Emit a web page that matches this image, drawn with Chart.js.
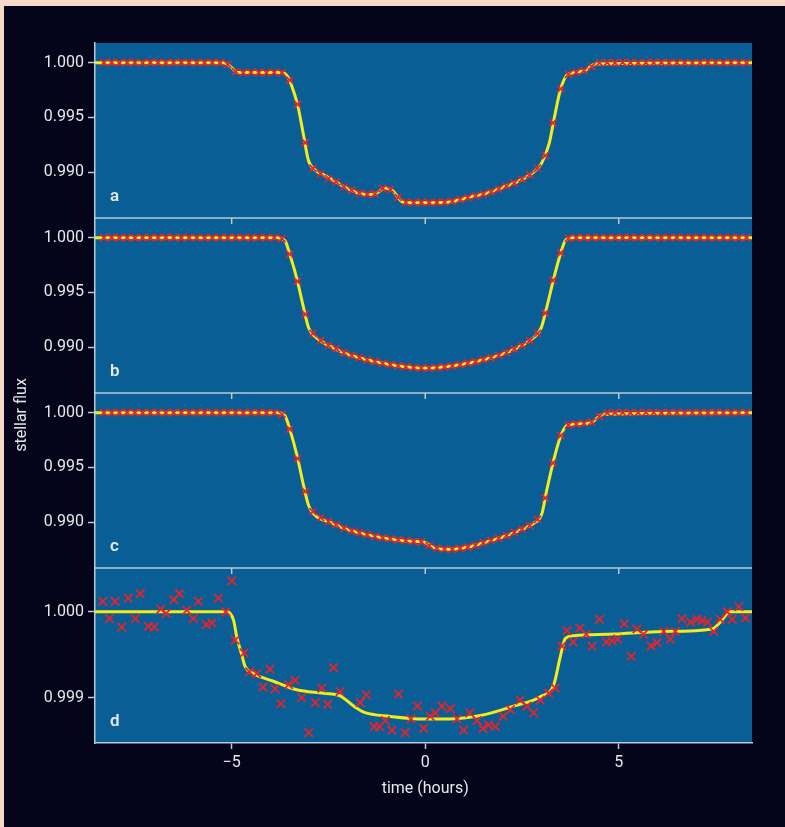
<!DOCTYPE html>
<html>
<head>
<meta charset="utf-8">
<title>Transit light curves</title>
<script src="https://cdn.jsdelivr.net/npm/chart.js@4.4.0/dist/chart.umd.min.js"></script>
<style>
  html, body { margin: 0; padding: 0; background: #04041a; }
  canvas { display: block; }
</style>
</head>
<body>
<canvas id="transitChart" width="785" height="827"></canvas>
<script>
// time axis (hours) and its labelled ticks
const xTicks = [-5, 0, 5];
const yTicksFine = [0.990, 0.995, 1.000];
const yTicksD = [0.999, 1.000];
const panelLetters = ["a", "b", "c", "d"];

// sampling times of the measured points in panels a, b, c
const tGrid = [-8.3, -8.1, -7.9, -7.7, -7.5, -7.3, -7.1, -6.9, -6.7, -6.5, -6.3, -6.1, -5.9, -5.7, -5.5, -5.3,
  -5.1, -4.9, -4.7, -4.5, -4.3, -4.1, -3.9, -3.7, -3.5, -3.3, -3.1, -2.9, -2.7, -2.5, -2.3, -2.1,
  -1.9, -1.7, -1.5, -1.3, -1.1, -0.9, -0.7, -0.5, -0.3, -0.1, 0.1, 0.3, 0.5, 0.7, 0.9, 1.1,
  1.3, 1.5, 1.7, 1.9, 2.1, 2.3, 2.5, 2.7, 2.9, 3.1, 3.3, 3.5, 3.7, 3.9, 4.1, 4.3,
  4.5, 4.7, 4.9, 5.1, 5.3, 5.5, 5.7, 5.9, 6.1, 6.3, 6.5, 6.7, 6.9, 7.1, 7.3, 7.5,
  7.7, 7.9, 8.1, 8.3];

const fluxA = [1.00000, 1.00002, 0.99998, 1.00001, 1.00000, 0.99998, 1.00002, 1.00000, 0.99999, 1.00001, 1.00002, 1.00000, 0.99998, 1.00000, 1.00001, 0.99999,
  0.99985, 0.99918, 0.99909, 0.99912, 0.99910, 0.99908, 0.99911, 0.99908, 0.99840, 0.99620, 0.99270, 0.99035, 0.98985, 0.98940, 0.98910, 0.98865,
  0.98835, 0.98808, 0.98796, 0.98800, 0.98850, 0.98840, 0.98768, 0.98724, 0.98720, 0.98722, 0.98720, 0.98722, 0.98725, 0.98732, 0.98748, 0.98765,
  0.98782, 0.98798, 0.98818, 0.98845, 0.98872, 0.98900, 0.98935, 0.98975, 0.99035, 0.99150, 0.99450, 0.99760, 0.99893, 0.99912, 0.99928, 0.99965,
  0.99998, 1.00001, 0.99999, 1.00002, 1.00000, 0.99998, 1.00001, 1.00000, 1.00002, 0.99999, 1.00000, 1.00001, 0.99998, 1.00000, 1.00002, 1.00000,
  0.99999, 1.00001, 1.00000, 0.99999];

const fluxB = [1.00000, 1.00002, 0.99999, 1.00001, 0.99998, 1.00001, 1.00000, 0.99999, 1.00002, 1.00000, 0.99999, 1.00001, 1.00000, 0.99998, 1.00001, 1.00000,
  0.99999, 1.00002, 1.00000, 0.99999, 1.00001, 1.00000, 1.00000, 0.99992, 0.99850, 0.99600, 0.99300, 0.99125, 0.99060, 0.99015, 0.98985, 0.98948,
  0.98925, 0.98905, 0.98884, 0.98868, 0.98852, 0.98839, 0.98828, 0.98820, 0.98812, 0.98808, 0.98808, 0.98812, 0.98818, 0.98828, 0.98839, 0.98852,
  0.98866, 0.98884, 0.98904, 0.98924, 0.98948, 0.98982, 0.99015, 0.99058, 0.99125, 0.99310, 0.99610, 0.99860, 0.99995, 1.00000, 0.99999, 1.00001,
  1.00000, 0.99998, 1.00001, 1.00000, 1.00002, 0.99999, 1.00000, 1.00001, 0.99999, 1.00000, 1.00002, 1.00000, 0.99999, 1.00001, 1.00000, 0.99998,
  1.00000, 1.00001, 0.99999, 1.00000];

const fluxC = [1.00001, 0.99999, 1.00000, 1.00002, 1.00000, 0.99999, 1.00001, 1.00000, 0.99998, 1.00000, 1.00001, 1.00000, 0.99999, 1.00002, 1.00000, 0.99999,
  1.00001, 1.00000, 0.99999, 1.00000, 1.00001, 0.99999, 1.00000, 0.99985, 0.99850, 0.99580, 0.99280, 0.99095, 0.99040, 0.99005, 0.98975, 0.98945,
  0.98920, 0.98902, 0.98886, 0.98868, 0.98856, 0.98846, 0.98838, 0.98830, 0.98824, 0.98818, 0.98785, 0.98762, 0.98752, 0.98750, 0.98758, 0.98770,
  0.98788, 0.98810, 0.98832, 0.98852, 0.98876, 0.98905, 0.98935, 0.98968, 0.99025, 0.99220, 0.99540, 0.99790, 0.99887, 0.99896, 0.99902, 0.99915,
  0.99965, 0.99998, 1.00000, 1.00001, 0.99999, 1.00000, 1.00002, 1.00000, 0.99999, 1.00001, 1.00000, 0.99998, 1.00001, 1.00000, 0.99999, 1.00002,
  1.00000, 0.99999, 1.00001, 1.00000];

// panel d: noisier measurements
const tD = [-8.33, -8.16, -8.01, -7.84, -7.67, -7.49, -7.36, -7.15, -7.00, -6.83, -6.69, -6.49, -6.35, -6.16, -5.99, -5.86,
  -5.66, -5.51, -5.34, -5.15, -5.00, -4.91, -4.68, -4.54, -4.35, -4.19, -4.01, -3.88, -3.73, -3.53, -3.36, -3.19,
  -3.01, -2.84, -2.67, -2.52, -2.37, -2.20, -1.68, -1.52, -1.32, -1.18, -1.03, -0.86, -0.69, -0.52, -0.37, -0.20,
  -0.04, 0.13, 0.26, 0.43, 0.65, 0.82, 0.99, 1.15, 1.34, 1.49, 1.64, 1.81, 2.01, 2.20, 2.45, 2.63,
  2.80, 2.97, 3.19, 3.36, 3.53, 3.66, 3.82, 3.99, 4.16, 4.31, 4.50, 4.68, 4.82, 4.97, 5.14, 5.32,
  5.47, 5.64, 5.83, 5.99, 6.16, 6.33, 6.46, 6.63, 6.85, 7.02, 7.15, 7.29, 7.45, 7.62, 7.80, 7.93,
  8.10, 8.27];
const fluxD = [1.00012, 0.99992, 1.00012, 0.99982, 1.00016, 0.99992, 1.00021, 0.99983, 0.99982, 1.00003, 0.99998, 1.00014, 1.00021, 1.00002, 0.99992, 1.00012,
  0.99985, 0.99987, 1.00016, 1.00000, 1.00036, 0.99967, 0.99952, 0.99930, 0.99928, 0.99912, 0.99933, 0.99910, 0.99893, 0.99915, 0.99920, 0.99900,
  0.99859, 0.99894, 0.99911, 0.99892, 0.99935, 0.99907, 0.99894, 0.99903, 0.99866, 0.99866, 0.99873, 0.99862, 0.99904, 0.99859, 0.99875, 0.99890,
  0.99864, 0.99878, 0.99882, 0.99890, 0.99887, 0.99875, 0.99862, 0.99882, 0.99873, 0.99864, 0.99868, 0.99866, 0.99878, 0.99886, 0.99897, 0.99890,
  0.99882, 0.99897, 0.99905, 0.99911, 0.99960, 0.99978, 0.99965, 0.99981, 0.99974, 0.99960, 0.99991, 0.99965, 0.99966, 0.99968, 0.99986, 0.99948,
  0.99980, 0.99974, 0.99960, 0.99964, 0.99977, 0.99968, 0.99977, 0.99992, 0.99988, 0.99991, 0.99990, 0.99988, 0.99977, 0.99991, 1.00000, 0.99991,
  1.00006, 0.99993];

// fitted model curves (yellow)
const modelTA = [-8.53, -5.2, -5.0, -4.85, -3.7, -3.55, -3.45, -3.3, -3.15, -3.02, -2.85, -2.6, -2.35, -2.0, -1.6, -1.35, -1.2, -1.05,
  -0.85, -0.6, -0.45, 0.5, 1.15, 1.6, 2.0, 2.45, 2.8, 3.0, 3.2, 3.33, 3.49, 3.66, 3.9, 4.13, 4.4, 8.44];
const modelA = [1.0000, 1.0000, 0.99955, 0.9991, 0.9991, 0.9987, 0.9979, 0.9962, 0.9935, 0.9911, 0.9902, 0.9897, 0.9892, 0.98848, 0.98798, 0.98795, 0.9882, 0.98855,
  0.98832, 0.9873, 0.9872, 0.98722, 0.98771, 0.98807, 0.9886, 0.98924, 0.9900, 0.99077, 0.9926, 0.9949, 0.9975, 0.99887, 0.99912, 0.9993, 0.99988, 1.0000];

const modelTB = [-8.53, -3.8, -3.62, -3.5, -3.32, -3.14, -3.01, -2.8, -2.45, -2.02, -1.5, -0.9, 0.0, 0.9, 1.5, 2.0,
  2.45, 2.8, 3.0, 3.15, 3.35, 3.5, 3.62, 3.8, 8.44];
const modelB = [1.0000, 1.0000, 0.9997, 0.9985, 0.9963, 0.99356, 0.99174, 0.99082, 0.99006, 0.98936, 0.98884, 0.98839, 0.98808, 0.98839, 0.98884, 0.98936,
  0.99006, 0.99085, 0.9918, 0.9938, 0.9967, 0.9986, 0.99975, 1.0000, 1.0000];

const modelTC = [-8.53, -3.8, -3.62, -3.5, -3.32, -3.14, -3.01, -2.84, -2.45, -1.94, -1.16, -0.4, -0.05, 0.2, 0.56, 1.16,
  1.59, 2.02, 2.45, 2.8, 3.01, 3.14, 3.32, 3.49, 3.66, 4.0, 4.26, 4.61, 8.44];
const modelC = [1.0000, 1.0000, 0.9997, 0.9985, 0.9962, 0.9933, 0.9915, 0.9906, 0.98997, 0.98924, 0.9886, 0.98825, 0.9882, 0.98768, 0.9875, 0.98774,
  0.9882, 0.98866, 0.98927, 0.98989, 0.99074, 0.99294, 0.99569, 0.99777, 0.99884, 0.99899, 0.99906, 0.99985, 1.0000];

const modelTD = [-8.53, -5.12, -4.95, -4.87, -4.74, -4.65, -4.44, -3.92, -3.32, -2.63, -2.2, -1.85, -1.59, -0.9, 0.0, 0.6,
  1.42, 2.28, 2.97, 3.32, 3.49, 3.62, 3.83, 4.87, 6.16, 7.41, 7.62, 7.88, 8.44];
const modelD = [1.0000, 1.0000, 0.9999, 0.99971, 0.9995, 0.99936, 0.99928, 0.99919, 0.99909, 0.99905, 0.99902, 0.9989, 0.99883, 0.99878, 0.99875, 0.99875,
  0.99879, 0.9989, 0.99901, 0.99915, 0.99948, 0.99969, 0.99972, 0.99974, 0.99977, 0.9998, 0.99988, 1.0000, 1.0000];

const lineColor = "#b7cad8";
const textColor = "#e6e8ea";

const toPoints = (xs, ys) => xs.map((x, i) => ({ x: x, y: ys[i] }));

function modelSet(xs, ys, axis) {
  return {
    type: "line", data: toPoints(xs, ys), yAxisID: axis,
    borderColor: "#f2ec1a", borderWidth: 3, pointRadius: 0,
    cubicInterpolationMode: "monotone", fill: false, order: 2
  };
}

function pointSet(xs, ys, axis, r) {
  return {
    type: "scatter", data: toPoints(xs, ys), yAxisID: axis,
    pointStyle: "crossRot", pointRadius: r, borderColor: "#e8232c",
    pointBorderWidth: 1.8, showLine: false, order: 1
  };
}

function fluxAxis(min, max, ticks, weight) {
  return {
    type: "linear", position: "left", stack: "flux", stackWeight: 1, weight: weight,
    min: min, max: max,
    afterBuildTicks: s => { s.ticks = ticks.map(v => ({ value: v })); },
    afterFit: s => { s.width = 95; },
    ticks: { color: textColor, font: { size: 16 }, padding: 4, callback: v => v.toFixed(3) },
    grid: { drawOnChartArea: false, color: lineColor, tickLength: 7, tickWidth: 1.5 },
    border: { color: lineColor, width: 1.5 }
  };
}

// backgrounds, panel separators, inner ticks, letters and axis titles
const framePlugin = {
  id: "frame",
  beforeDraw(chart) {
    const { ctx, chartArea } = chart;
    ctx.save();
    ctx.fillStyle = "#f8d9c8";
    ctx.fillRect(0, 0, chart.width, chart.height);
    ctx.fillStyle = "#04041a";
    ctx.fillRect(4, 6, chart.width - 4, chart.height - 6);
    ctx.fillStyle = "#0a5e96";
    ctx.fillRect(chartArea.left, chartArea.top, chartArea.right - chartArea.left, chartArea.bottom - chartArea.top);
    ctx.restore();
  },
  afterDraw(chart) {
    const { ctx, chartArea, scales } = chart;
    const panels = [scales.ya, scales.yb, scales.yc, scales.yd];
    ctx.save();
    ctx.strokeStyle = lineColor;
    ctx.lineWidth = 1.5;
    panels.slice(1).forEach(s => {
      ctx.beginPath();
      ctx.moveTo(chartArea.left, s.top);
      ctx.lineTo(chartArea.right, s.top);
      ctx.stroke();
      xTicks.forEach(v => {
        const px = scales.x.getPixelForValue(v);
        ctx.beginPath();
        ctx.moveTo(px, s.top);
        ctx.lineTo(px, s.top + 6);
        ctx.stroke();
      });
    });
    ctx.fillStyle = textColor;
    ctx.font = "600 17px Roboto";
    ctx.textAlign = "left";
    ctx.textBaseline = "middle";
    panels.forEach((s, i) => ctx.fillText(panelLetters[i], chartArea.left + 15, s.bottom - 21));

    ctx.font = "16px Roboto";
    ctx.textAlign = "center";
    ctx.fillText("time (hours)", scales.x.getPixelForValue(0), 789);
    ctx.translate(22, 415);
    ctx.rotate(-Math.PI / 2);
    ctx.fillText("stellar flux", 0, 0);
    ctx.restore();
  }
};

Chart.defaults.font.family = "Roboto";

new Chart(document.getElementById("transitChart").getContext("2d"), {
  type: "scatter",
  data: {
    datasets: [
      modelSet(modelTA, modelA, "ya"),
      modelSet(modelTB, modelB, "yb"),
      modelSet(modelTC, modelC, "yc"),
      modelSet(modelTD, modelD, "yd"),
      pointSet(tGrid, fluxA, "ya", 5),
      pointSet(tGrid, fluxB, "yb", 5),
      pointSet(tGrid, fluxC, "yc", 5),
      pointSet(tD, fluxD, "yd", 6)
    ]
  },
  options: {
    responsive: false,
    animation: false,
    layout: { padding: { left: 0, top: 43, right: 33, bottom: 0 } },
    plugins: { legend: { display: false }, tooltip: { enabled: false } },
    scales: {
      x: {
        type: "linear", position: "bottom", min: -8.53, max: 8.44,
        afterBuildTicks: s => { s.ticks = xTicks.map(v => ({ value: v })); },
        afterFit: s => { s.height = 84; },
        ticks: { color: textColor, font: { size: 16 }, padding: 4,
          callback: v => v < 0 ? "\u2212" + Math.abs(v) : String(v) },
        grid: { drawOnChartArea: false, color: lineColor, tickLength: 6, tickWidth: 1.5 },
        border: { color: lineColor, width: 1.5 }
      },
      ya: fluxAxis(0.9858, 1.0018, yTicksFine, 4),
      yb: fluxAxis(0.9858, 1.0018, yTicksFine, 3),
      yc: fluxAxis(0.9858, 1.0018, yTicksFine, 2),
      yd: fluxAxis(0.99847, 1.00051, yTicksD, 1)
    }
  },
  plugins: [framePlugin]
});
</script>
</body>
</html>
